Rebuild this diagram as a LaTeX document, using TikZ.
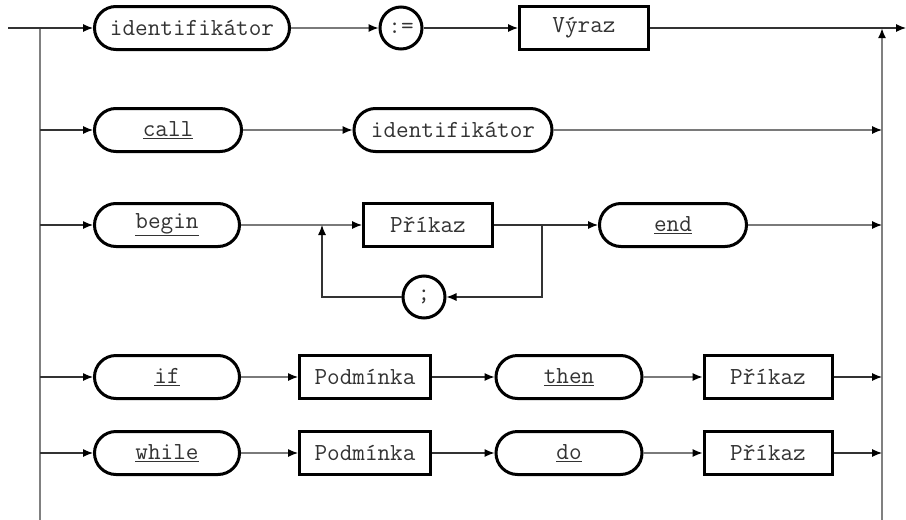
\documentclass[tikz,border=0pt]{standalone}
\usepackage{fontspec}
\usetikzlibrary{arrows.meta,shapes.misc}
\begin{document}
\begin{tikzpicture}[x=1pt,y=-1pt,
  every node/.style={font=\ttfamily\fontsize{24.5}{27}\selectfont, text=black!80, inner sep=0pt},
  term/.style={draw=black, rounded rectangle, line width=3pt, minimum height=43pt, minimum width=#1},
  nonterm/.style={draw=black, rectangle, line width=3pt, minimum height=43pt, minimum width=#1},
  symb/.style={draw=black, circle, line width=3pt, minimum size=42pt},
  conn/.style={draw=black!80, line width=1.1pt},
  arr/.style={conn, -{Latex[length=10pt,width=8pt,color=black]}},
  rail/.style={draw=black!50, line width=2pt}]
\useasboundingbox (0,0) rectangle (906,520);

% rail coordinates
\coordinate (start) at (8,28);
\coordinate (L1) at (40,28);
\coordinate (L2) at (40,130);
\coordinate (L3) at (40,225);
\coordinate (L4) at (40,377);
\coordinate (L5) at (40,453);
\coordinate (Lbot) at (40,520);
\coordinate (R1) at (882,28);
\coordinate (R2) at (882,130);
\coordinate (R3) at (882,225);
\coordinate (R4) at (882,377);
\coordinate (R5) at (882,453);
\coordinate (Rbot) at (882,520);
\coordinate (exit) at (906,28);

% assignment
\node[term=195] (id1) at (192,28) {identifikátor};
\node[symb] (assign) at (401,28) {:=};
\node[nonterm=129] (vyraz) at (584,28) {Výraz};

% call
\node[term=147] (call) at (168,130) {\underline{call}};
\node[term=198] (id2) at (453,130) {identifikátor};

% begin ... end
\node[term=145] (begin) at (167,225) {\underline{begin}};
\node[nonterm=129] (prikaz1) at (428,225) {Příkaz};
\node[term=147] (end) at (673,225) {\underline{end}};
\node[symb] (semi) at (424,297) {;};
\coordinate (jL) at (322,225);
\coordinate (jLb) at (322,297);
\coordinate (jR) at (542,225);
\coordinate (jRb) at (542,297);

% if ... then
\node[term=145] (if) at (167,377) {\underline{if}};
\node[nonterm=131] (podm1) at (365,377) {Podmínka};
\node[term=146] (then) at (569,377) {\underline{then}};
\node[nonterm=128] (prikaz2) at (768,377) {Příkaz};

% while ... do
\node[term=145] (while) at (167,453) {\underline{while}};
\node[nonterm=131] (podm2) at (365,453) {Podmínka};
\node[term=146] (do) at (569,453) {\underline{do}};
\node[nonterm=128] (prikaz3) at (768,453) {Příkaz};

% rails
\draw[rail] (L1) -- (Lbot);
\draw[rail, -{Latex[length=10pt,width=8pt,color=black]}] (Rbot) -- (R1);

% row 1
\draw[conn] (start) -- (L1);
\draw[arr] (L1) -- (id1);
\draw[arr] (id1) -- (assign);
\draw[arr] (assign) -- (vyraz);
\draw[arr] (vyraz) -- (exit);

% row 2
\draw[arr] (L2) -- (call);
\draw[arr] (call) -- (id2);
\draw[arr] (id2) -- (R2);

% row 3
\draw[arr] (L3) -- (begin);
\draw[arr] (begin) -- (prikaz1);
\draw[arr] (prikaz1) -- (end);
\draw[arr] (end) -- (R3);
\draw[arr] (jR) -- (jRb) -- (semi);
\draw[arr] (semi) -- (jLb) -- (jL);

% row 4
\draw[arr] (L4) -- (if);
\draw[arr] (if) -- (podm1);
\draw[arr] (podm1) -- (then);
\draw[arr] (then) -- (prikaz2);
\draw[arr] (prikaz2) -- (R4);

% row 5
\draw[arr] (L5) -- (while);
\draw[arr] (while) -- (podm2);
\draw[arr] (podm2) -- (do);
\draw[arr] (do) -- (prikaz3);
\draw[arr] (prikaz3) -- (R5);
\end{tikzpicture}
\end{document}
